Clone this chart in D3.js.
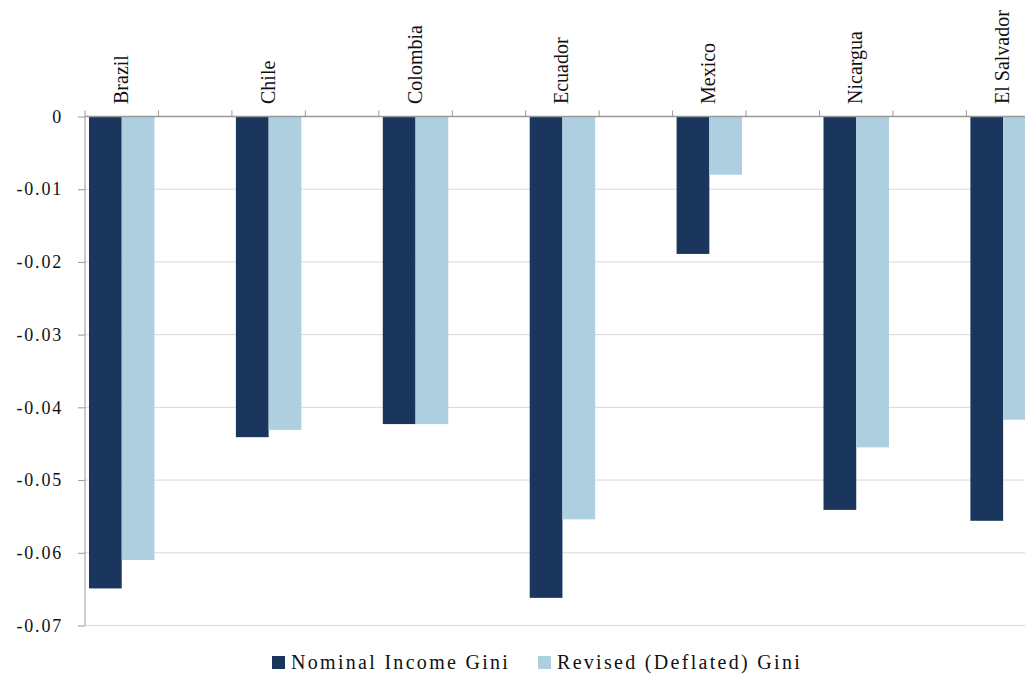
<!DOCTYPE html>
<html>
<head>
<meta charset="utf-8">
<script src="https://cdn.jsdelivr.net/npm/d3@7"></script>
<style>
	body { margin: 0; background: #fff; }
	svg { display: block; font-family: "Liberation Serif", "Times New Roman", serif; }
</style>
</head>
<body>
<svg width="1025" height="674"></svg>
<script>
const countries = ['Brazil', 'Chile', 'Colombia', 'Ecuador', 'Mexico', 'Nicargua', 'El Salvador'];
const series = ['Nominal Income Gini', 'Revised (Deflated) Gini'];
const nominal = [-0.0649, -0.0441, -0.0423, -0.0662, -0.0189, -0.0541, -0.0556];
const revised = [-0.0610, -0.0431, -0.0423, -0.0554, -0.0080, -0.0455, -0.0417];
const yTicks = [0, -0.01, -0.02, -0.03, -0.04, -0.05, -0.06, -0.07];
const colours = ['#1a365d', '#aecfe0'];

const svg = d3.select('svg');
const plotLeft = 85, plotTop = 116.5, plotBottom = 625.5;
const slot = 73.45;	// each country takes two slots, bars in the first one

const x = d3.scaleBand().domain(countries).range([plotLeft, plotLeft + countries.length * slot * 2]);
const xs = d3.scaleBand().domain(series).range([4, slot - 4]);
const y = d3.scaleLinear().domain([0, -0.07]).range([plotTop, plotBottom]);

// gridlines
svg.append('g')
	.selectAll('line')
	.data(yTicks.slice(1))
	.enter().append('line')
		.attr('x1', plotLeft).attr('x2', 1025)
		.attr('y1', d => y(d)).attr('y2', d => y(d))
		.attr('stroke', '#d9d9d9')
		.attr('stroke-width', 1);

// bars
const rows = countries.map((c, i) => ({country: c, values: [nominal[i], revised[i]]}));
svg.append('g')
	.selectAll('g')
	.data(rows)
	.enter().append('g')
		.attr('transform', d => `translate(${x(d.country)},0)`)
	.selectAll('rect')
	.data(d => d.values.map((v, j) => ({key: series[j], value: v, j: j})))
	.enter().append('rect')
		.attr('x', d => xs(d.key))
		.attr('width', xs.bandwidth())
		.attr('y', y(0))
		.attr('height', d => y(d.value) - y(0))
		.attr('fill', d => colours[d.j]);

// y axis
const yAxis = svg.append('g')
	.attr('transform', `translate(${plotLeft},0)`)
	.call(d3.axisLeft(y).tickValues(yTicks).tickFormat(d => d === 0 ? '0' : d3.format('.2f')(d).replace('−', '-')).tickSize(7).tickPadding(15));
yAxis.attr('font-family', null);
yAxis.select('.domain').attr('stroke', '#999').attr('d', `M0,${plotTop}V${plotBottom}`);
yAxis.selectAll('.tick line').attr('stroke', '#999');
yAxis.selectAll('.tick text')
	.attr('fill', '#111')
	.style('font-size', '18px')
	.style('letter-spacing', '1.8px')
	.style('font-family', '"Liberation Serif", serif');

// x axis along zero, with ticks every half category
const halfTicks = [];
countries.forEach(c => { halfTicks.push(x(c)); halfTicks.push(x(c) + slot); });
svg.append('line')
	.attr('x1', plotLeft).attr('x2', 1025)
	.attr('y1', y(0)).attr('y2', y(0))
	.attr('stroke', '#999').attr('stroke-width', 1.3);
svg.append('g')
	.selectAll('line')
	.data(halfTicks)
	.enter().append('line')
		.attr('x1', d => d).attr('x2', d => d)
		.attr('y1', y(0)).attr('y2', y(0) - 6)
		.attr('stroke', '#999');

// country labels, rotated
svg.append('g')
	.selectAll('text')
	.data(countries)
	.enter().append('text')
		.attr('transform', d => `translate(${x(d) + xs(series[1]) + 6},104) rotate(-90)`)
		.attr('text-anchor', 'start')
		.style('font-size', '20px')
		.attr('fill', '#111')
		.text(d => d);

// legend
const legendX = [272, 538];
const legend = svg.append('g')
	.selectAll('g')
	.data(series)
	.enter().append('g')
		.attr('transform', (d, i) => `translate(${legendX[i]},656)`);
legend.append('rect')
	.attr('width', 13).attr('height', 13)
	.attr('fill', (d, i) => colours[i]);
legend.append('text')
	.attr('x', 19).attr('y', 13)
	.style('font-size', '20px')
	.style('letter-spacing', '2.3px')
	.attr('fill', '#111')
	.text(d => d);
</script>
</body>
</html>
